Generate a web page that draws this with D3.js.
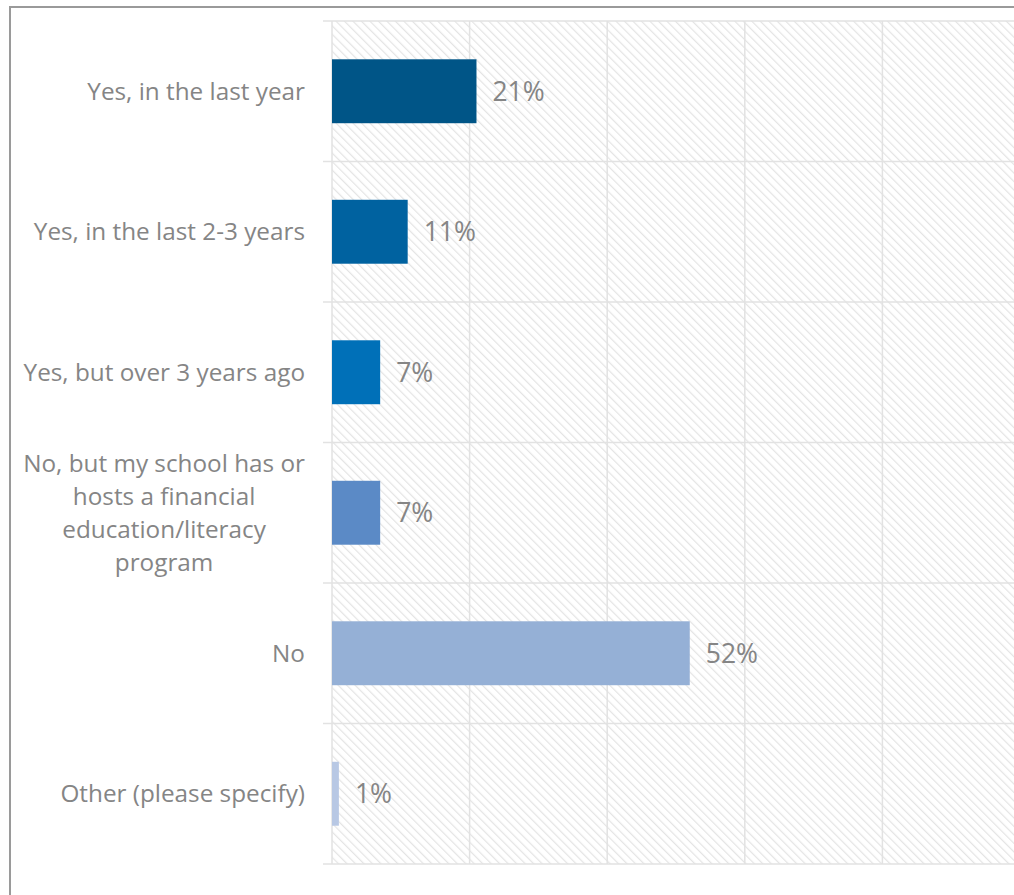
<!DOCTYPE html>
<html>
<head>
<meta charset="utf-8">
<script src="https://cdn.jsdelivr.net/npm/d3@7"></script>
<style>
  html, body { margin: 0; padding: 0; background: #fff; overflow: hidden; }
  svg { display: block; }
  text { font-family: "Open Sans", "Liberation Sans", sans-serif; fill: #858585; }
</style>
</head>
<body>
<svg id="chart"></svg>
<script>
// 数据
const categories = [
    "Yes, in the last year",
    "Yes, in the last 2-3 years",
    "Yes, but over 3 years ago",
    "No, but my school has or|hosts a financial|education/literacy|program",
    "No",
    "Other (please specify)"
];
const values = [21, 11, 7, 7, 52, 1];
const barColors = ["#005587", "#0062a0", "#0070b8", "#5b8ac6", "#95b0d6", "#b8c8e4"];
const xTicks = [0, 20, 40, 60, 80, 100];

const width = 1014, height = 895;
const plot = { left: 332, right: 1020, top: 21, bottom: 864 };

const svg = d3.select("#chart").attr("width", width).attr("height", height);

// 斜线底纹
const defs = svg.append("defs");
const pat = defs.append("pattern")
    .attr("id", "hatch")
    .attr("patternUnits", "userSpaceOnUse")
    .attr("width", 6).attr("height", 6)
    .attr("patternTransform", "rotate(-45)");
pat.append("rect").attr("width", 6).attr("height", 6).attr("fill", "#fff");
pat.append("line")
    .attr("x1", 0).attr("y1", 0).attr("x2", 0).attr("y2", 6)
    .attr("stroke", "#e4e4e4").attr("stroke-width", 2.4);

// 外框
svg.append("rect")
    .attr("x", 10).attr("y", 7)
    .attr("width", 1100).attr("height", 1000)
    .attr("fill", "none").attr("stroke", "#9a9a9a").attr("stroke-width", 2);

const x = d3.scaleLinear().domain([0, 100]).range([plot.left, plot.right]);
const y = d3.scaleBand().domain(categories).range([plot.top, plot.bottom]).paddingInner(0.545).paddingOuter(0.2725);
const step = y.step();

// 绘图区底纹
svg.append("rect")
    .attr("x", plot.left).attr("y", plot.top)
    .attr("width", plot.right - plot.left).attr("height", plot.bottom - plot.top)
    .attr("fill", "url(#hatch)");

// 竖网格线
svg.append("g").selectAll("line")
    .data(xTicks)
    .join("line")
    .attr("x1", d => x(d)).attr("x2", d => x(d))
    .attr("y1", plot.top).attr("y2", plot.bottom)
    .attr("stroke", "#e2e2e2").attr("stroke-width", 1.5);

// 横分隔线（含刻度）
const bounds = d3.range(categories.length + 1).map(i => plot.top + i * step);
svg.append("g").selectAll("line")
    .data(bounds)
    .join("line")
    .attr("x1", plot.left - 9).attr("x2", plot.right)
    .attr("y1", d => d).attr("y2", d => d)
    .attr("stroke", "#e2e2e2").attr("stroke-width", 1.5);

// 条形
svg.append("g").selectAll("rect")
    .data(values)
    .join("rect")
    .attr("x", x(0))
    .attr("y", (d, i) => y(categories[i]))
    .attr("width", d => x(d) - x(0))
    .attr("height", y.bandwidth())
    .attr("fill", (d, i) => barColors[i]);

// 数值标签
svg.append("g").selectAll("text")
    .data(values)
    .join("text")
    .attr("x", d => x(d) + 16)
    .attr("y", (d, i) => y(categories[i]) + y.bandwidth() / 2)
    .attr("dy", "0.36em")
    .style("font-size", "26.5px")
    .text(d => d + "%");

// 分类标签
const labelRight = 305;
const lineH = 33;
const labels = svg.append("g");
categories.forEach(c => {
    const lines = c.split("|");
    const cy = y(c) + y.bandwidth() / 2;
    const t = labels.append("text")
        .style("font-size", "24.3px")
        .attr("text-anchor", lines.length > 1 ? "middle" : "end");
    lines.forEach((ln, j) => {
        t.append("tspan")
            .attr("x", labelRight)
            .attr("y", cy + (j - (lines.length - 1) / 2) * lineH)
            .attr("dy", "0.35em")
            .text(ln);
    });
    if (lines.length > 1) {
        const w = d3.max(t.selectAll("tspan").nodes(), n => n.getComputedTextLength());
        t.selectAll("tspan").attr("x", labelRight - w / 2);
    }
});
</script>
</body>
</html>
